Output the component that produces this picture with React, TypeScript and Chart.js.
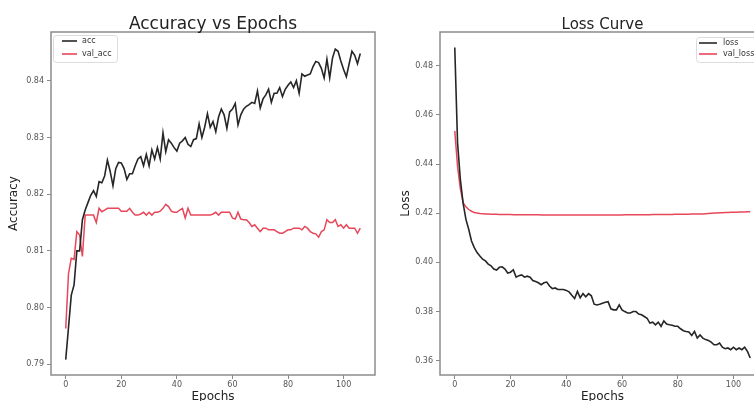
import React, { useEffect, useRef } from "react";
import { Chart, registerables } from "chart.js";

Chart.register(...registerables);

const acc = [
  0.7908, 0.7965, 0.8022, 0.804, 0.81, 0.81, 0.8155, 0.8172, 0.8185, 0.8198,
  0.8206, 0.8196, 0.8222, 0.822, 0.8232, 0.826, 0.824, 0.8215, 0.8245, 0.8256,
  0.8255, 0.8245, 0.8226, 0.8236, 0.8236, 0.825, 0.8262, 0.8266, 0.825, 0.827,
  0.825, 0.8278, 0.8262, 0.8282, 0.8262, 0.8308, 0.8275, 0.8296, 0.829, 0.8282,
  0.8276, 0.829, 0.8294, 0.83, 0.8288, 0.8284, 0.8296, 0.8298, 0.8324, 0.83,
  0.8318, 0.8342, 0.8318, 0.8328, 0.831, 0.8336, 0.835, 0.834, 0.8316, 0.8345,
  0.835, 0.836, 0.8322, 0.834, 0.835, 0.8355, 0.8358, 0.8362, 0.836, 0.8382,
  0.8352, 0.8368, 0.8375, 0.8385, 0.8362, 0.8378, 0.8378, 0.8388, 0.8372, 0.8385,
  0.8392, 0.8398, 0.8388, 0.84, 0.8378, 0.8412, 0.8408, 0.841, 0.8412, 0.8425,
  0.8434, 0.8432, 0.8422, 0.8405, 0.8438, 0.8405, 0.844, 0.8456, 0.8452, 0.8435,
  0.842, 0.8407, 0.843, 0.8452, 0.8445, 0.843, 0.8448,
];

const valAcc = [
  0.7963, 0.806, 0.8087, 0.8085, 0.8134, 0.8128, 0.809, 0.8163, 0.8163, 0.8163,
  0.8163, 0.815, 0.8175, 0.8169, 0.8172, 0.8175, 0.8175, 0.8175, 0.8175, 0.8175,
  0.817, 0.817, 0.817, 0.8175, 0.8168, 0.8163, 0.8163, 0.8165, 0.8168, 0.8163,
  0.8168, 0.8163, 0.8168, 0.8168, 0.817, 0.8175, 0.8182, 0.8178, 0.817, 0.8168,
  0.8168, 0.8172, 0.8175, 0.8158, 0.8175, 0.8163, 0.8163, 0.8163, 0.8163, 0.8163,
  0.8163, 0.8163, 0.8163, 0.8165, 0.8168, 0.8163, 0.8168, 0.8168, 0.8168, 0.8168,
  0.8158, 0.8156, 0.8168, 0.8156, 0.8155, 0.8155, 0.815, 0.8143, 0.8146, 0.814,
  0.8134, 0.814, 0.814, 0.8137, 0.8137, 0.8137, 0.8134, 0.8131, 0.8131, 0.8134,
  0.8137, 0.8137, 0.814, 0.814, 0.814, 0.8137, 0.8143, 0.814, 0.8134, 0.8131,
  0.813, 0.8124, 0.8134, 0.8137, 0.8155, 0.815, 0.815, 0.8155, 0.8143, 0.8146,
  0.814, 0.8146, 0.814, 0.814, 0.814, 0.8131, 0.814,
];

const loss = [
  0.4874, 0.4486, 0.4337, 0.424, 0.4175, 0.4135, 0.4087, 0.406, 0.404, 0.4026,
  0.4013, 0.4006, 0.3993, 0.3986, 0.3973, 0.3969, 0.398, 0.3982, 0.3973, 0.3957,
  0.396, 0.397, 0.394, 0.3946, 0.3949, 0.394, 0.3944, 0.394, 0.3926, 0.3922,
  0.3917, 0.3909, 0.3917, 0.392, 0.3904, 0.3893, 0.3896, 0.389, 0.389, 0.389,
  0.3886, 0.388, 0.3866, 0.3853, 0.3882, 0.3856, 0.3873, 0.386, 0.3873, 0.3864,
  0.383, 0.3827, 0.383, 0.3834, 0.3838, 0.384, 0.3811, 0.3807, 0.3807, 0.3827,
  0.3807, 0.38, 0.3794, 0.3794, 0.38, 0.38, 0.379, 0.3787, 0.378, 0.3773,
  0.3753, 0.3757, 0.3746, 0.3757, 0.374, 0.3762, 0.3749, 0.3746, 0.3744, 0.374,
  0.374, 0.373, 0.3722, 0.3719, 0.3717, 0.3703, 0.3719, 0.3692, 0.3705, 0.3692,
  0.3686, 0.3682, 0.3676, 0.3665, 0.3665, 0.3672, 0.3655, 0.3649, 0.3652, 0.3645,
  0.3655, 0.3645, 0.3652, 0.3645, 0.3655, 0.3638, 0.3611,
];

const valLoss = [
  0.4535, 0.439, 0.43, 0.4243, 0.4226, 0.4215, 0.4208, 0.4203, 0.4201, 0.4199,
  0.4198, 0.4197, 0.4197, 0.4196, 0.4196, 0.4196, 0.4195, 0.4195, 0.4195, 0.4195,
  0.4195, 0.4194, 0.4194, 0.4194, 0.4194, 0.4194, 0.4194, 0.4194, 0.4194, 0.4194,
  0.4194, 0.4193, 0.4193, 0.4193, 0.4193, 0.4193, 0.4193, 0.4193, 0.4193, 0.4193,
  0.4193, 0.4193, 0.4193, 0.4193, 0.4193, 0.4193, 0.4193, 0.4193, 0.4193, 0.4193,
  0.4193, 0.4193, 0.4193, 0.4193, 0.4193, 0.4193, 0.4193, 0.4193, 0.4193, 0.4193,
  0.4193, 0.4194, 0.4194, 0.4194, 0.4194, 0.4194, 0.4194, 0.4194, 0.4194, 0.4194,
  0.4194, 0.4195, 0.4195, 0.4195, 0.4195, 0.4195, 0.4195, 0.4195, 0.4195, 0.4196,
  0.4196, 0.4196, 0.4196, 0.4196, 0.4196, 0.4197, 0.4197, 0.4197, 0.4197, 0.4197,
  0.4198, 0.4199, 0.42, 0.4201, 0.4201, 0.4202, 0.4202, 0.4203, 0.4203, 0.4204,
  0.4204, 0.4204, 0.4205, 0.4205, 0.4205, 0.4206, 0.4206,
];

const epochs = acc.map((_, i) => i);
const xTicks = [0, 20, 40, 60, 80, 100];
const accTicks = [0.79, 0.8, 0.81, 0.82, 0.83, 0.84];
const lossTicks = [0.36, 0.38, 0.4, 0.42, 0.44, 0.46, 0.48];

const FONT = "'DejaVu Sans', sans-serif";
const BLACK = "#262626";
const RED = "#e8475a";

type Decor = {
  title: string;
  titleSize: number;
  xlabel: string;
  ylabel: string;
  ylabelX: number;
  legend: { x: number; y: number; w: number; h: number; lineX0: number; lineX1: number; textX: number; rows: number[] };
  labels: string[];
};

function decorPlugin(d: Decor) {
  return {
    id: "decor",
    afterDraw(chart: any) {
      const ctx = chart.ctx as CanvasRenderingContext2D;
      const a = chart.chartArea;
      ctx.save();
      ctx.strokeStyle = "#8c8c8c";
      ctx.lineWidth = 1.5;
      ctx.strokeRect(a.left, a.top, a.right - a.left, a.bottom - a.top);
      const cx = (a.left + a.right) / 2;
      ctx.fillStyle = "#222";
      ctx.textAlign = "center";
      ctx.textBaseline = "alphabetic";
      ctx.font = `${d.titleSize}px ${FONT}`;
      ctx.fillText(d.title, cx, 28.5);
      ctx.font = `12px ${FONT}`;
      ctx.fillText(d.xlabel, cx, 400);
      ctx.save();
      ctx.translate(d.ylabelX, (a.top + a.bottom) / 2);
      ctx.rotate(-Math.PI / 2);
      ctx.textBaseline = "middle";
      ctx.fillText(d.ylabel, 0, 0);
      ctx.restore();
      // legend
      const L = d.legend;
      ctx.fillStyle = "rgba(255,255,255,0.85)";
      ctx.strokeStyle = "#dcdcdc";
      ctx.lineWidth = 1;
      ctx.beginPath();
      (ctx as any).roundRect(L.x + 0.5, L.y + 0.5, L.w, L.h, 3);
      ctx.fill();
      ctx.stroke();
      const colors = [BLACK, RED];
      ctx.font = `8px ${FONT}`;
      ctx.textAlign = "left";
      ctx.textBaseline = "middle";
      L.rows.forEach((ry, i) => {
        ctx.strokeStyle = colors[i];
        ctx.lineWidth = 1.6;
        ctx.beginPath();
        ctx.moveTo(L.lineX0, ry);
        ctx.lineTo(L.lineX1, ry);
        ctx.stroke();
        ctx.fillStyle = "#333";
        ctx.fillText(d.labels[i], L.textX, ry);
      });
      ctx.restore();
    },
  };
}

function buildConfig(
  s1: number[],
  s2: number[],
  yMin: number,
  yMax: number,
  yTicks: number[],
  yWidth: number,
  padRight: number,
  decor: Decor
): any {
  const tickFont = { size: 8, family: FONT };
  return {
    type: "line",
    data: {
      labels: epochs,
      datasets: [
        {
          label: decor.labels[0],
          data: epochs.map((e, i) => ({ x: e, y: s1[i] })),
          borderColor: BLACK,
          borderWidth: 1.6,
          pointRadius: 0,
          tension: 0,
          fill: false,
        },
        {
          label: decor.labels[1],
          data: epochs.map((e, i) => ({ x: e, y: s2[i] })),
          borderColor: RED,
          borderWidth: 1.5,
          pointRadius: 0,
          tension: 0,
          fill: false,
        },
      ],
    },
    options: {
      responsive: false,
      animation: false,
      devicePixelRatio: 1,
      layout: { padding: { left: 0, top: 32, right: padRight, bottom: 0 } },
      plugins: { legend: { display: false }, tooltip: { enabled: false }, title: { display: false } },
      scales: {
        x: {
          type: "linear",
          min: -5.3,
          max: 111.3,
          afterBuildTicks: (s: any) => {
            s.ticks = xTicks.map((v) => ({ value: v }));
          },
          afterFit: (s: any) => {
            s.height = 26;
          },
          grid: { drawOnChartArea: false, drawTicks: true, tickLength: 4, color: "#888", lineWidth: 1 },
          border: { display: false },
          ticks: {
            font: tickFont,
            color: "#555",
            padding: 1,
            maxRotation: 0,
            autoSkip: false,
            callback: (v: any) => String(v),
          },
        },
        y: {
          type: "linear",
          min: yMin,
          max: yMax,
          afterBuildTicks: (s: any) => {
            s.ticks = yTicks.map((v) => ({ value: v }));
          },
          afterFit: (s: any) => {
            s.width = yWidth;
          },
          grid: { drawOnChartArea: false, drawTicks: true, tickLength: 4, color: "#888", lineWidth: 1 },
          border: { display: false },
          ticks: {
            font: tickFont,
            color: "#555",
            padding: 3,
            autoSkip: false,
            callback: (v: any) => Number(v).toFixed(2),
          },
        },
      },
    },
    plugins: [decorPlugin(decor)],
  };
}

export default function App() {
  const leftRef = useRef<HTMLCanvasElement | null>(null);
  const rightRef = useRef<HTMLCanvasElement | null>(null);

  useEffect(() => {
    const c1 = new Chart(
      leftRef.current as HTMLCanvasElement,
      buildConfig(acc, valAcc, 0.7881, 0.8486, accTicks, 51, 2, {
        title: "Accuracy vs Epochs",
        titleSize: 17,
        xlabel: "Epochs",
        ylabel: "Accuracy",
        ylabelX: 14,
        legend: { x: 53, y: 35, w: 64, h: 27, lineX0: 62, lineX1: 77, textX: 82, rows: [41, 54] },
        labels: ["acc", "val_acc"],
      })
    );
    const c2 = new Chart(
      rightRef.current as HTMLCanvasElement,
      buildConfig(loss, valLoss, 0.3542, 0.4937, lossTicks, 63, 12, {
        title: "Loss Curve",
        titleSize: 15,
        xlabel: "Epochs",
        ylabel: "Loss",
        ylabelX: 29,
        legend: { x: 319, y: 37, w: 66, h: 25, lineX0: 322, lineX1: 340, textX: 346, rows: [43, 54] },
        labels: ["loss", "val_loss"],
      })
    );
    return () => {
      c1.destroy();
      c2.destroy();
    };
  }, []);

  return (
    <div
      style={{
        position: "fixed",
        left: 0,
        top: 0,
        width: 754,
        height: 401,
        overflow: "hidden",
        background: "#fff",
      }}
    >
      <canvas
        ref={leftRef}
        width={377}
        height={401}
        style={{ position: "absolute", left: 0, top: 0, width: 377, height: 401 }}
      />
      <canvas
        ref={rightRef}
        width={400}
        height={401}
        style={{ position: "absolute", left: 377, top: 0, width: 400, height: 401 }}
      />
    </div>
  );
}
